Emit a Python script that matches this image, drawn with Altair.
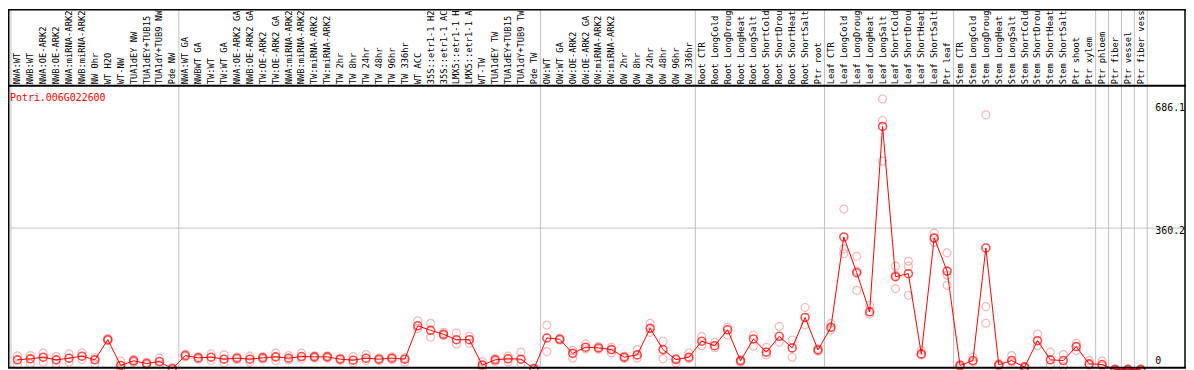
import altair as alt
import pandas as pd

gene = "Potri.006G022600"

categories = [
    "NWA:WT", "NWB:WT", "NWA:OE-ARK2", "NWB:OE-ARK2", "NWA:miRNA-ARK2", "NWB:miRNA-ARK2",
    "NW 0hr", "WT H2O", "WT-NW", "TUA1dEY NW", "TUA1dEY+TUB15", "TUA1dY+TUB9 NW", "Pde NW",
    "NWA:WT GA", "NWBWT GA", "TW:WT", "TW:WT GA", "NWA:OE-ARK2 GA", "NWB:OE-ARK2 GA",
    "TW:OE-ARK2", "TW:OE-ARK2 GA", "NWA:miRNA-ARK2", "NWB:miRNA-ARK2", "TW:miRNA-ARK2",
    "TW:miRNA-ARK2", "TW 2hr", "TW 8hr", "TW 24hr", "TW 48hr", "TW 96hr", "TW 336hr",
    "WT ACC", "35S::etr1-1 H2", "35S::etr1-1 AC", "LMX5::etr1-1 H", "LMX5::etr1-1 A",
    "WT-TW", "TUA1dEY TW", "TUA1dEY+TUB15", "TUA1dY+TUB9 TW", "Pde TW",
    "OW:WT", "OW:WT GA", "OW:OE-ARK2", "OW:OE-ARK2 GA", "OW:miRNA-ARK2", "OW:miRNA-ARK2",
    "OW 2hr", "OW 8hr", "OW 24hr", "OW 48hr", "OW 96hr", "OW 336hr",
    "Root CTR", "Root LongCold", "Root LongDroug", "Root LongHeat", "Root LongSalt",
    "Root ShortCold", "Root ShortDrou", "Root ShortHeat", "Root ShortSalt", "Ptr root",
    "Leaf CTR", "Leaf LongCold", "Leaf LongDroug", "Leaf LongHeat", "Leaf LongSalt",
    "Leaf ShortCold", "Leaf ShortDrou", "Leaf ShortHeat", "Leaf ShortSalt", "Ptr leaf",
    "Stem CTR", "Stem LongCold", "Stem LongDroug", "Stem LongHeat", "Stem LongSalt",
    "Stem ShortCold", "Stem ShortDrou", "Stem ShortHeat", "Stem ShortSalt", "Ptr shoot",
    "Ptr xylem", "Ptr phloem", "Ptr fiber", "Ptr vessel", "Ptr fiber vess",
]

means = [
    27.6, 30.1, 34.3, 27.6, 31.8, 36.9, 27.6, 78.5, 13.3, 25.1,
    18.3, 23.3, 5, 38.4, 32.5, 34.3, 29.3, 31.8, 29.3, 32.6,
    35.1, 31.8, 35.9, 35.1, 35.1, 29.3, 26.8, 31.8, 29.3, 31.8,
    29.3, 113.6, 102, 92, 78.5, 78.5, 14.3, 27.6, 30.1, 29.3,
    5, 82.7, 79.5, 43.9, 59.4, 57.7, 53.4, 34.3, 40.1, 107,
    53.4, 28.3, 34.3, 74.5, 63.4, 103.5, 25.1, 80.2, 46.9, 87,
    57.7, 134.6, 52.6, 109.6, 337.7, 247.4, 148.7, 616.7, 237.4, 245,
    42.6, 335.2, 251.5, 13.3, 25.8, 310, 15, 25.8, 9.3, 76,
    27.6, 25.8, 61, 17.5, 15.8, 3, 3, 3,
]

rep_hi = [
    37.6, 38.4, 44.4, 35.9, 42.6, 45.1, 33, 82, 24.3, 29,
    22, 31.8, 8, 42, 36, 42.6, 40.1, 35, 36.9, 36,
    44.4, 38.4, 44.4, 38, 38, 32, 35.9, 40.9, 32, 35,
    33, 126, 120, 97, 95.3, 87, 23.3, 31, 36.9, 46.9,
    7, 115.3, 82, 50.9, 67.7, 61, 59.4, 37, 53.4, 119.6,
    74.5, 31, 44.4, 86, 72, 109.6, 28, 90.3, 59.4, 112,
    77.7, 159.7, 56, 119.6, 408, 289, 165.5, 686.1, 264, 276.5,
    50.9, 347.7, 297.6, 16, 34.3, 646, 18, 38.4, 12, 92.8,
    46.9, 40.9, 69.4, 25.8, 24.3, 5, 5, 5,
]

rep_lo = [
    15.8, 17.5, 21.8, 17.5, 21.8, 28.3, 17.5, 76, 5, 21,
    15, 15.8, 2, 35, 29, 25.8, 20, 28, 21.8, 29,
    25.8, 27, 30, 32, 32, 26, 20, 25.8, 26, 28,
    21.8, 107, 84.5, 88.5, 67.7, 69.4, 8, 23.3, 22.6, 17.5,
    2, 48.4, 77, 31.8, 55, 54, 45.1, 31, 31.8, 97,
    30.1, 20, 30, 63.4, 58, 90.3, 22, 61.9, 40.1, 72,
    34.3, 116, 49, 104, 307.6, 203, 143, 631.8, 207.3, 264,
    40, 324, 215.6, 10, 22, 162, 12, 22, 7, 63.4,
    15, 10.8, 50.9, 14, 12, 1, 1, 1,
]

rep_extra = [None] * 64 + [295.8, 251.5, None, 529, 241, 190.5, None, 334, 241, None,
                           None, 120] + [None] * 12

tick_values = [0, 360.2, 686.1]
group_start_index = [0, 13, 41, 53, 63, 73, 84, 85, 86, 87]

# ---------------------------------------------------------------- tables
keys = [f"{i:02d}" for i in range(len(categories))]
df_mean = pd.DataFrame({"key": keys, "label": categories, "v": means})
rows = []
for k, a, b, c in zip(keys, rep_hi, rep_lo, rep_extra):
    for r in (a, b, c):
        if r is not None:
            rows.append({"key": k, "v": r})
df_rep = pd.DataFrame(rows)
df_sep = pd.DataFrame({"key": [keys[i] for i in group_start_index]})
df_last = pd.DataFrame({"key": [keys[-1]]})
df_ticks = pd.DataFrame({"v": tick_values})

W, H = 1186, 362
FONT = "DejaVu Sans Mono"

xs = alt.Scale(domain=keys, range=[3, 1147], paddingInner=0, paddingOuter=0)
ys = alt.Scale(domain=[0, 719.5], range=[364, 77], nice=False, zero=False)
X = lambda **kw: alt.X("key:N", scale=xs, axis=None, sort=keys, **kw)
Y = alt.Y("v:Q", scale=ys, axis=None)

sep = alt.Chart(df_sep).mark_rule(color="#c0c0c0", strokeWidth=1).encode(
    x=X(bandPosition=0), y=alt.value(0), y2=alt.value(361))
sep_last = alt.Chart(df_last).mark_rule(color="#c0c0c0", strokeWidth=1).encode(
    x=X(bandPosition=1), y=alt.value(0), y2=alt.value(361))
hgrid = alt.Chart(df_ticks).transform_filter(alt.datum.v == 360.2).mark_rule(
    color="#c0c0c0", strokeWidth=1).encode(y=Y, x=alt.value(3), x2=alt.value(1185))

reps = alt.Chart(df_rep).mark_point(shape="circle", filled=False, size=64,
                                    color="#f09a9a", strokeWidth=1.2).encode(x=X(), y=Y)
line = alt.Chart(df_mean).mark_line(color="#ff0000", strokeWidth=1).encode(x=X(), y=Y)
pts = alt.Chart(df_mean).mark_point(shape="circle", filled=False, size=64,
                                    color="#ff0000", strokeWidth=1.6).encode(x=X(), y=Y)

labels = alt.Chart(df_mean).mark_text(angle=270, align="left", baseline="middle",
                                      font=FONT, fontSize=8.8, color="black").encode(
    x=X(), y=alt.value(75.5), text="label:N")

title = alt.Chart(pd.DataFrame({"t": [gene]})).mark_text(
    align="left", baseline="middle", font=FONT, fontSize=10, color="#ff0000").encode(
    x=alt.value(2), y=alt.value(89), text="t:N")

def tick_label(val, baseline, dy):
    return alt.Chart(df_ticks).transform_filter(alt.datum.v == val).mark_text(
        align="left", baseline=baseline, dy=dy, font=FONT, fontSize=10, color="black").encode(
        y=Y, x=alt.value(1155), text=alt.Text("v:Q", format="~g"))

t_top = tick_label(686.1, "top", 4)
t_mid = tick_label(360.2, "top", -2)
t_zero = tick_label(0, "alphabetic", -7)

frame_src = pd.DataFrame({"a": [0]})
def hline(yv, sw=1.5):
    return alt.Chart(frame_src).mark_rule(color="black", strokeWidth=sw).encode(
        x=alt.value(0), x2=alt.value(W), y=alt.value(yv))
def vline(xv, sw=1.5):
    return alt.Chart(frame_src).mark_rule(color="black", strokeWidth=sw).encode(
        y=alt.value(0), y2=alt.value(361), x=alt.value(xv))

chart = alt.layer(
    sep, sep_last, hgrid, reps, line, pts, labels, title, t_top, t_mid, t_zero,
    hline(0.5), hline(77, 2), hline(361, 2), vline(0.75), vline(1185),
).properties(width=W, height=H, padding=0, autosize=alt.AutoSizeParams(type="none")).configure_view(
    stroke=None)

chart.save("out.html", embed_options={"renderer": "svg", "actions": False})
